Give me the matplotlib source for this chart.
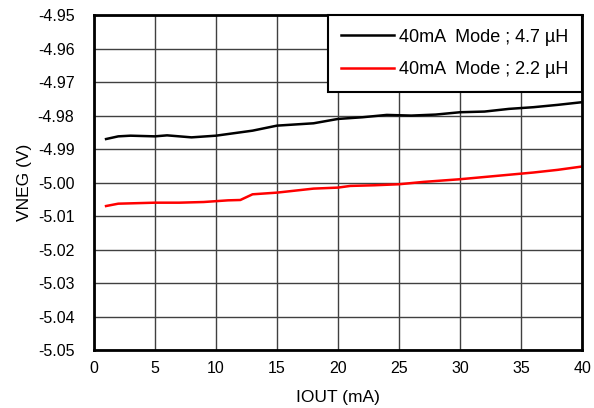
import matplotlib.pyplot as plt

plt.rcParams['font.family'] = ['Liberation Sans', 'DejaVu Sans']

# IOUT (mA) and VNEG (V)
x_47 = [1, 2, 3, 5, 6, 7, 8, 10, 12, 13, 15, 18, 20, 22, 24, 26, 28, 30, 32, 34, 36, 38, 40]
v_47 = [-4.987, -4.9862, -4.986, -4.9862, -4.9859, -4.9862, -4.9865, -4.986, -4.985, -4.9845,
        -4.9830, -4.9823, -4.9810, -4.9805, -4.9798, -4.9800, -4.9797, -4.9790, -4.9788,
        -4.9780, -4.9775, -4.9768, -4.9760]

x_22 = [1, 2, 5, 7, 9, 11, 12, 13, 15, 18, 20, 21, 23, 25, 27, 30, 33, 36, 38, 40]
v_22 = [-5.007, -5.0063, -5.006, -5.006, -5.0058, -5.0053, -5.0052, -5.0035, -5.0030,
        -5.0018, -5.0015, -5.0010, -5.0008, -5.0005, -4.9998, -4.9990, -4.9980, -4.9970,
        -4.9962, -4.9952]

labels = ['40mA  Mode ; 4.7 µH', '40mA  Mode ; 2.2 µH']

fig = plt.figure(figsize=(5.94, 4.08), dpi=100)
ax = fig.add_axes([0.158, 0.142, 0.822, 0.821])
ax.plot(x_47, v_47, color='black', lw=1.8, label=labels[0])
ax.plot(x_22, v_22, color='red', lw=1.8, label=labels[1])

ax.set_xlim(0, 40)
ax.set_ylim(-5.05, -4.95)
ax.set_xticks(range(0, 41, 5))
ax.set_yticks([-5.05 + 0.01 * i for i in range(11)])
ax.yaxis.set_major_formatter(plt.FormatStrFormatter('%.2f'))
ax.grid(True, color='#404040', lw=1)
ax.tick_params(length=0, labelsize=11.5)
ax.tick_params(axis='x', pad=8)
ax.tick_params(axis='y', pad=14)
for s in ax.spines.values():
    s.set_linewidth(2)
ax.set_xlabel('IOUT (mA)', fontsize=12.5, labelpad=10)
ax.set_ylabel('VNEG (V)', fontsize=12.5, labelpad=4)

leg = ax.legend(loc='upper right', fontsize=13, fancybox=False, framealpha=1,
                edgecolor='black', borderaxespad=0, handlelength=2.9, handletextpad=0.3,
                borderpad=0.75, labelspacing=0.85)
leg.get_frame().set_linewidth(1.5)

fig.savefig('out.png', dpi=100)
